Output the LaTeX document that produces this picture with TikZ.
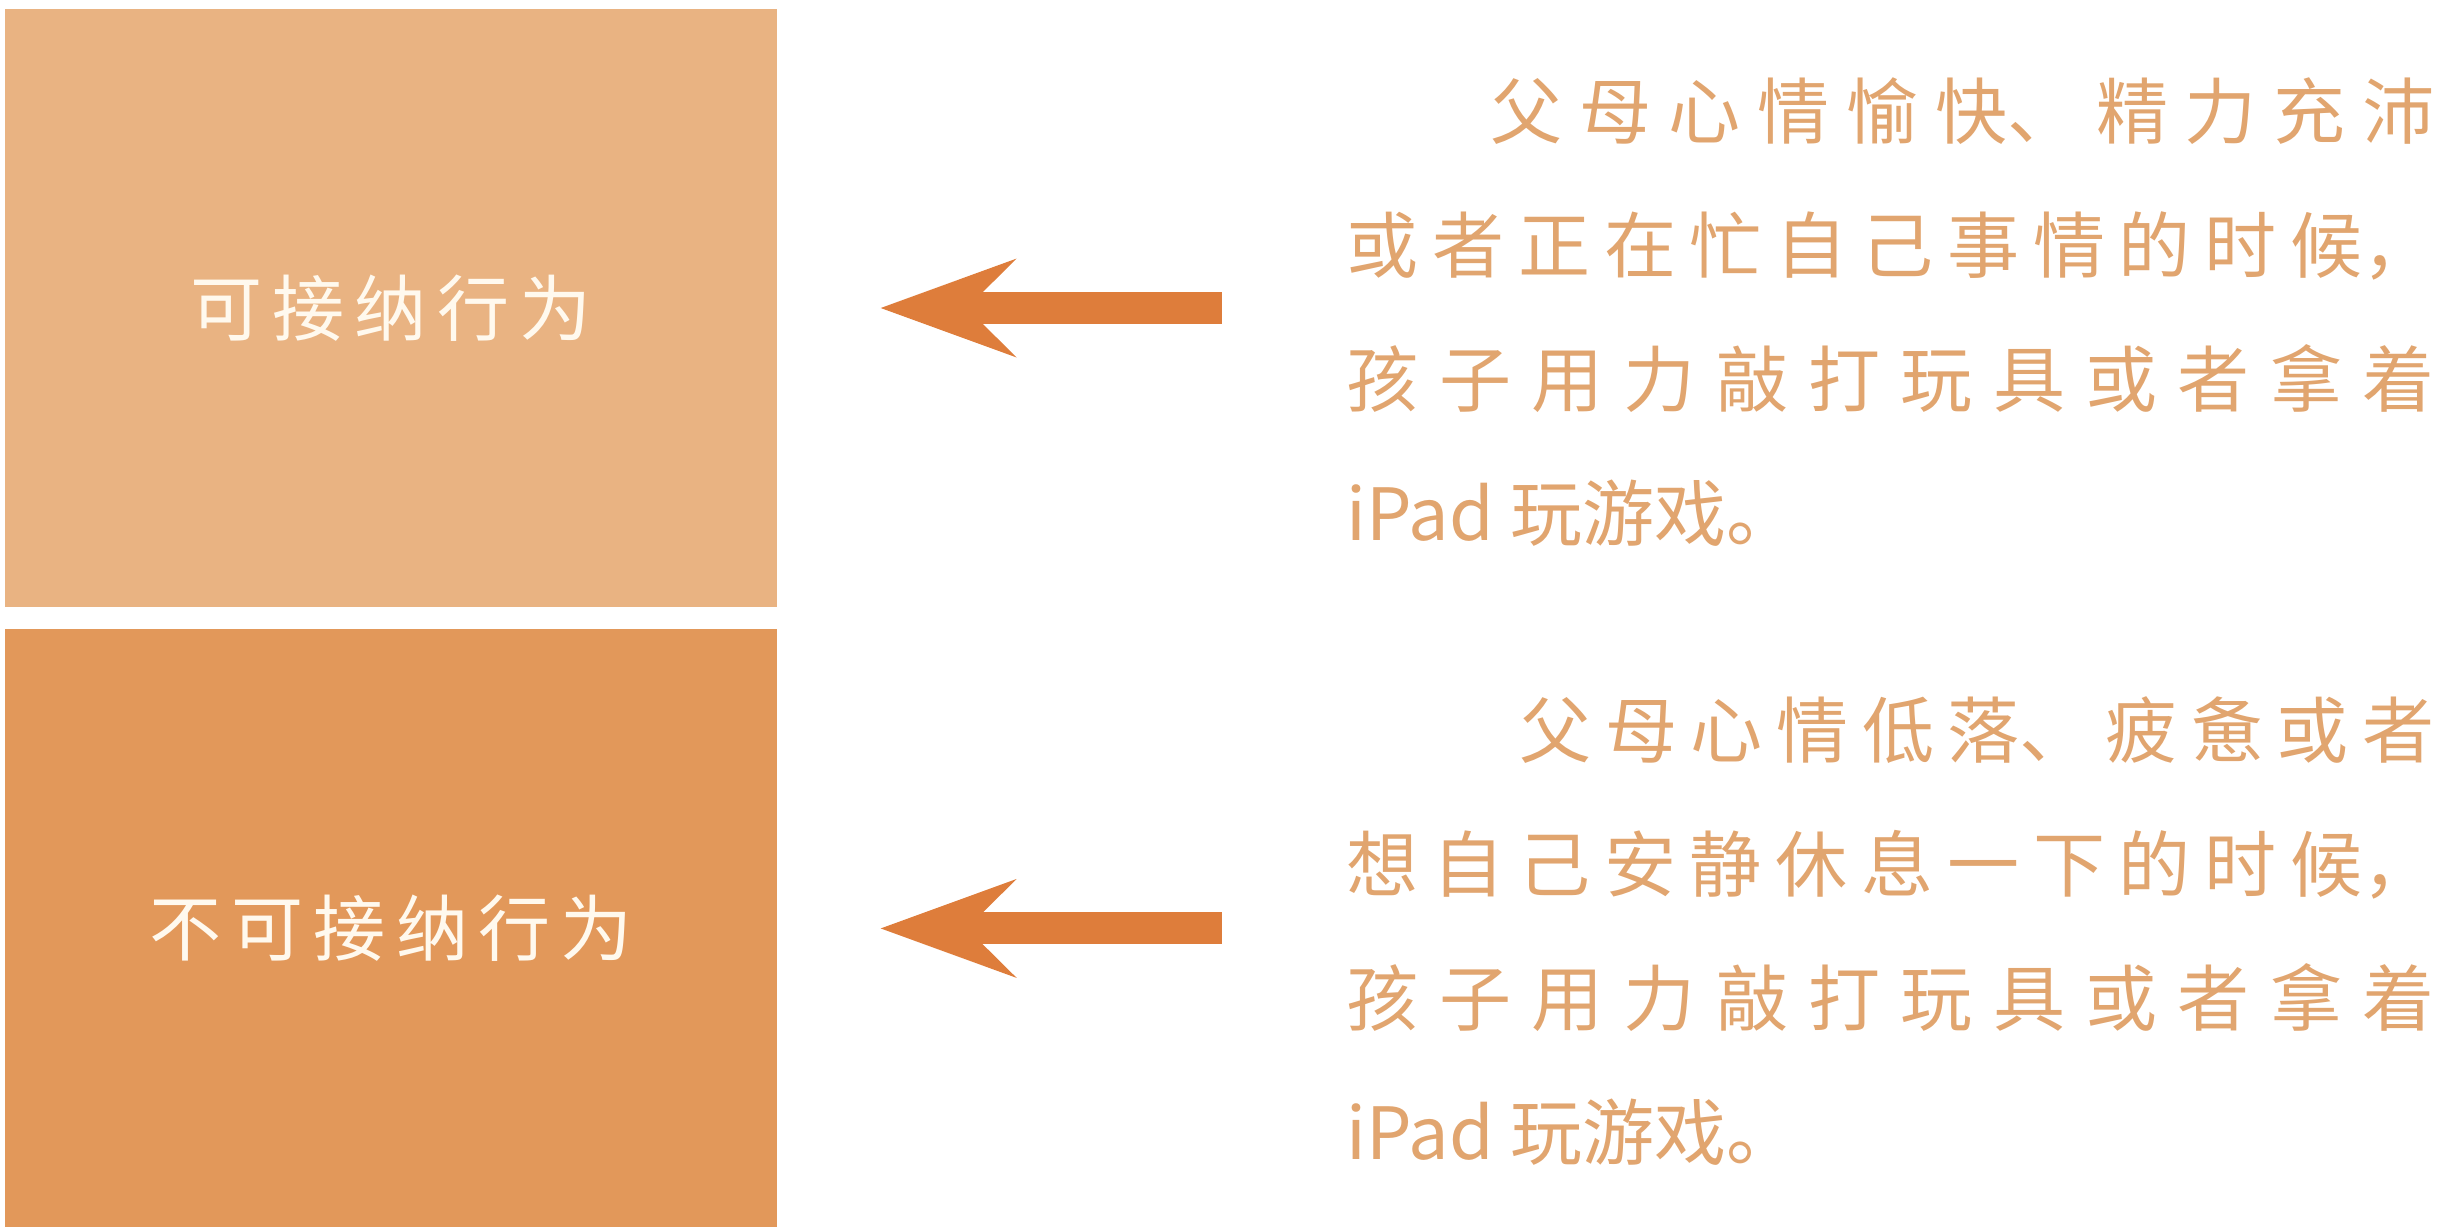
\documentclass[tikz,border=0pt]{standalone}
\usepackage{fontspec}
\usepackage{tikz}
\usetikzlibrary{arrows.meta,positioning}
\newfontfamily\cjk{Noto Sans CJK SC}
\newfontfamily\cjkwide[LetterSpace=14]{Noto Sans CJK SC}
\XeTeXlinebreaklocale "zh"
\XeTeXlinebreakskip=0pt plus 0.5em
\definecolor{PaleTan}{HTML}{E9B382}
\definecolor{DeepTan}{HTML}{E2985A}
\definecolor{ArrowOrange}{HTML}{DE7D3B}
\definecolor{NoteOrange}{HTML}{E1A56F}
\definecolor{LabelWhite}{HTML}{FFF9EE}
\tikzset{
  behaviour/.style={rectangle, inner sep=0pt, minimum width=77.2mm, minimum height=59.8mm,
    text=LabelWhite, font=\cjkwide\fontsize{20.5pt}{24pt}\selectfont},
  okbox/.style={behaviour, fill=PaleTan},
  notokbox/.style={behaviour, fill=DeepTan},
  situation/.style={anchor=north west, inner sep=0pt, text width=108.8mm, align=justify,
    text=NoteOrange, font=\cjk\fontsize{20.5pt}{38.1pt}\selectfont},
  bigarrow/.style={line width=3.2mm, draw=ArrowOrange,
    -{Stealth[length=13.6mm, width=9.9mm, inset=5mm, line width=0pt]}}
}
\begin{document}
\begin{tikzpicture}
  \useasboundingbox (0,0) rectangle (24.54,-12.26);
  \node[okbox] (ok) at (3.91,-3.08) {可接纳行为};
  \node[notokbox, below=2.1mm of ok] (notok) {不可接纳行为};
  % what the parents feel, on the right
  \node[situation] (happy) at (13.46,-0.77) {\noindent\hspace*{2em}父母心情愉快、精力充沛\linebreak 或者正在忙自己事情的时候，\linebreak 孩子用力敲打玩具或者拿着\linebreak iPad 玩游戏。};
  \node[situation] (tired) at (13.46,-6.96) {\noindent\hspace*{2.4em}父母心情低落、疲惫或者\linebreak 想自己安静休息一下的时候，\linebreak 孩子用力敲打玩具或者拿着\linebreak iPad 玩游戏。};
  \coordinate[right=10.3mm of ok] (oktip);
  \coordinate[right=44.4mm of ok] (okfrom);
  \coordinate[right=10.3mm of notok] (notoktip);
  \coordinate[right=44.4mm of notok] (notokfrom);
  \draw[bigarrow] (okfrom) -- (oktip);
  \draw[bigarrow] (notokfrom) -- (notoktip);
\end{tikzpicture}
\end{document}
